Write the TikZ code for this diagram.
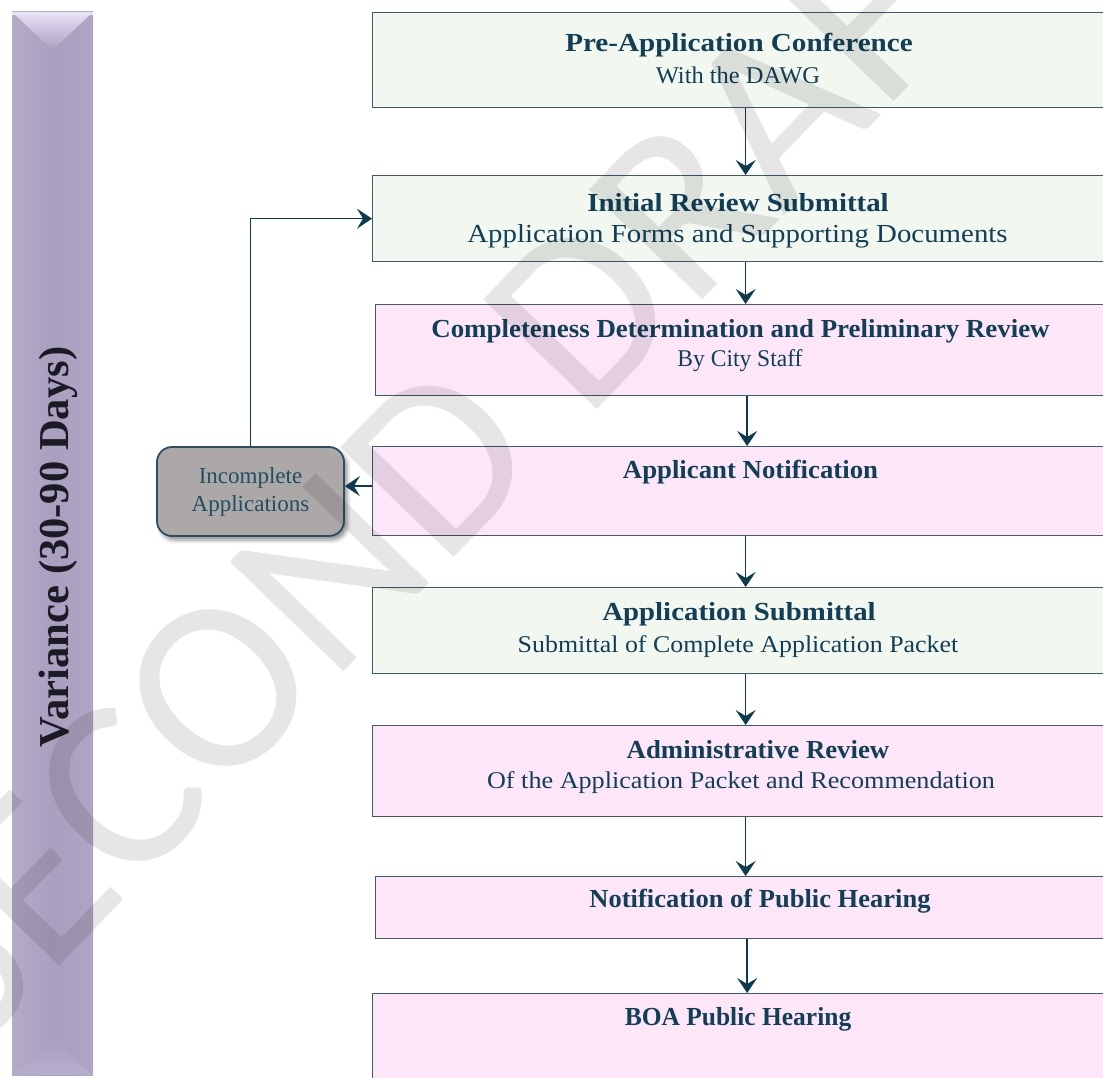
\documentclass[tikz,border=0pt]{standalone}
\usepackage{graphicx}
\usepackage{fontspec}
\setmainfont{Liberation Serif}
\newfontfamily\wmfont{Carlito}
\usetikzlibrary{arrows.meta,shadows.blur}

\definecolor{txt}{HTML}{123F56}
\definecolor{inctxt}{HTML}{1F4F63}
\definecolor{lnc}{HTML}{0D3A4F}
\definecolor{bord}{HTML}{3F5A6B}
\definecolor{greenfill}{HTML}{F2F7F0}
\definecolor{pinkfill}{HTML}{FCE6F8}
\definecolor{incfill}{HTML}{ACA8A8}
\definecolor{incbord}{HTML}{2C4F60}
\definecolor{barmid}{HTML}{A9A0BF}
\definecolor{barleft}{HTML}{B3ABC8}
\definecolor{barright}{HTML}{AEA5C4}
\definecolor{bevel}{HTML}{E8E2F6}
\definecolor{bevelbot}{HTML}{B6AECC}
\definecolor{wmgray}{HTML}{E6E6E6}
\definecolor{bartext}{HTML}{1C1A24}

\newcommand{\fsz}[1]{\fontsize{#1pt}{#1pt}\selectfont}

\tikzset{
  stage/.style={draw=bord, line width=1.3pt, anchor=north west, inner sep=0pt},
  greenbox/.style={stage, fill=greenfill},
  pinkbox/.style={stage, fill=pinkfill},
  hd/.style={anchor=base, inner sep=0pt, text=txt, font=\bfseries\fsz{26}},
  sb/.style={anchor=base, inner sep=0pt, text=txt, font=\fsz{24}},
  arr/.style={draw=lnc, line width=1.6pt, -{Stealth[length=15pt,width=20pt,inset=6pt]}},
  incnode/.style={draw=incbord, line width=1.8pt, fill=incfill, rounded corners=15pt,
    minimum width=187pt, minimum height=89pt, inner sep=0pt, align=center,
    text=inctxt, font=\fontsize{23pt}{28pt}\selectfont,
    blur shadow={shadow xshift=3pt, shadow yshift=-4pt, shadow blur radius=4pt, shadow opacity=45}},
}

\begin{document}
\begin{tikzpicture}[x=1pt, y=-1pt]
\useasboundingbox (0,0) rectangle (1103,1078);
\clip (0,0) rectangle (1103,1078);

% side bar with bevelled ends
\shade[left color=barleft, right color=barright, middle color=barmid] (12,12) rectangle (93,1075);
\shade[top color=bevel, bottom color=barmid] (12,12) -- (93,12) -- (52.5,50) -- cycle;
\fill[bevel] (12,12) rectangle (93,15);
\shade[top color=barmid, bottom color=bevelbot] (12,1075) -- (93,1075) -- (52.5,1040) -- cycle;
\node[rotate=90, anchor=base, inner sep=0pt, text=bartext, font=\bfseries\fsz{42.6}] (bartitle) at (68,547) {Variance (30-90 Days)};

% process stages
\node[greenbox, minimum width=746pt, minimum height=95pt] (b1) at (372,12) {};
\node[greenbox, minimum width=746pt, minimum height=86pt] (b2) at (372,175) {};
\node[pinkbox,  minimum width=743pt, minimum height=91pt] (b3) at (375,304) {};
\node[pinkbox,  minimum width=746pt, minimum height=89pt] (b4) at (372,446) {};
\node[greenbox, minimum width=746pt, minimum height=86pt] (b5) at (372,587) {};
\node[pinkbox,  minimum width=746pt, minimum height=91pt] (b6) at (372,725) {};
\node[pinkbox,  minimum width=743pt, minimum height=62pt] (b7) at (375,876) {};
\node[pinkbox,  minimum width=746pt, minimum height=130pt] (b8) at (372,993) {};

% stage titles
\node[hd] (t1a) at (739,52)  {\scalebox{1.12}[1]{Pre-Application Conference}};
\node[sb] (t1b) at (738,84)  {\scalebox{1.02}[1]{With the DAWG}};
\node[hd] (t2a) at (738,212) {\scalebox{1.11}[1]{Initial Review Submittal}};
\node[sb, font=\fsz{26}] (t2b) at (737.5,243) {\scalebox{1.11}[1]{Application Forms and Supporting Documents}};
\node[hd] (t3a) at (740.5,337) {\scalebox{1.035}[1]{Completeness Determination and Preliminary Review}};
\node[sb] (t3b) at (740,366) {\scalebox{0.98}[1]{By City Staff}};
\node[hd] (t4)  at (750.5,478) {\scalebox{1.03}[1]{Applicant Notification}};
\node[hd] (t5a) at (739,620) {\scalebox{1.11}[1]{Application Submittal}};
\node[sb] (t5b) at (738,652) {\scalebox{1.08}[1]{Submittal of Complete Application Packet}};
\node[hd] (t6a) at (758,758) {\scalebox{1.03}[1]{Administrative Review}};
\node[sb] (t6b) at (741,788) {\scalebox{1.09}[1]{Of the Application Packet and Recommendation}};
\node[hd] (t7)  at (760,907) {\scalebox{1.02}[1]{Notification of Public Hearing}};
\node[hd] (t8)  at (738,1025) {\scalebox{0.98}[1]{BOA Public Hearing}};

% return path for incomplete submittals
\node[incnode] (inc) at (250.5,491.5) {Incomplete\\Applications};

% connectors
\draw[arr] (b1.south) -- (b1.south |- b2.north);
\draw[arr] (b2.south) -- (b2.south |- b3.north);
\draw[arr] (b3.south) -- (b3.south |- b4.north);
\draw[arr] (b4.south) -- (b4.south |- b5.north);
\draw[arr] (b5.south) -- (b5.south |- b6.north);
\draw[arr] (b6.south) -- (b6.south |- b7.north);
\draw[arr] (b7.south) -- (b7.south |- b8.north);
\draw[arr] ([yshift=5pt]b4.west) -- ([yshift=5pt]b4.west -| inc.east);
\draw[arr] (inc.north) |- (b2.west);

% draft watermark
\begin{scope}[blend mode=multiply]
\node[rotate=46, inner sep=0pt, text=wmgray, font=\wmfont\fsz{246}] (wm) at (450,448) {SECOND DRAFT};
\end{scope}
\end{tikzpicture}
\end{document}
